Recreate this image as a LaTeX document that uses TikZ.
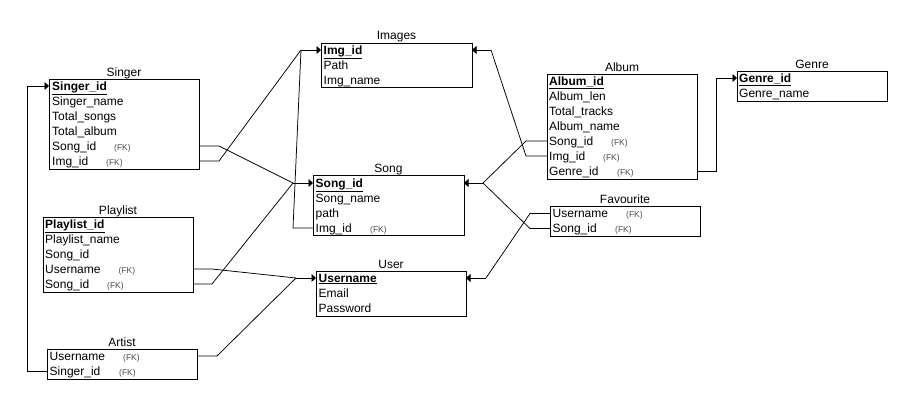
\documentclass[tikz,border=0pt]{standalone}
\usepackage{fontspec}
\setmainfont{Liberation Sans}
\usetikzlibrary{arrows.meta}
\begin{document}
\begin{tikzpicture}[x=1pt,y=-1pt,
  tbl/.style={draw=black,line width=0.9pt,anchor=north west,inner sep=0pt,outer sep=0pt},
  ttl/.style={anchor=base,inner sep=0pt,font=\fontsize{12}{14}\selectfont},
  fld/.style={anchor=base west,inner sep=0pt,font=\fontsize{12}{14}\selectfont},
  fk/.style={anchor=base west,inner sep=0pt,text=black!70,font=\fontsize{8.5}{10}\selectfont},
  link/.style={draw=black,line width=0.75pt},
  tip/.style={link,-{Triangle[length=4.5pt,width=8pt]}}]
\useasboundingbox (0,0) rectangle (912,405);
\newcommand{\pk}[1]{\textbf{\underline{#1}}}

% ---------- Singer ----------
\node[tbl,minimum width=150pt,minimum height=90pt] (singer) at (49,79) {};
\node[ttl] (singer-t) at (124,76.5) {Singer};
\node[fld] (sg1) at (52,90) {\pk{Singer\_id}};
\node[fld] (sg2) at (52,105) {Singer\_name};
\node[fld] (sg3) at (52,120) {Total\_songs};
\node[fld] (sg4) at (52,135) {Total\_album};
\node[fld] (sg5) at (52,150) {Song\_id};
\node[fk] (sg5k) at (114,150) {(FK)};
\node[fld] (sg6) at (52,165) {Img\_id};
\node[fk] (sg6k) at (106,165) {(FK)};

% ---------- Images ----------
\node[tbl,minimum width=151pt,minimum height=44pt] (img) at (321,43) {};
\node[ttl] (img-t) at (396.5,39.5) {Images};
\node[fld] (im1) at (323.5,54) {\pk{Img\_id}};
\node[fld] (im2) at (323.5,69) {Path};
\node[fld] (im3) at (323.5,84) {Img\_name};

% ---------- Song ----------
\node[tbl,minimum width=151pt,minimum height=60pt] (song) at (313,175) {};
\node[ttl] (song-t) at (388.5,172.5) {Song};
\node[fld] (so1) at (315.5,187) {\pk{Song\_id}};
\node[fld] (so2) at (315.5,202) {Song\_name};
\node[fld] (so3) at (315.5,217) {path};
\node[fld] (so4) at (315.5,232) {Img\_id};
\node[fk] (so4k) at (370,232) {(FK)};

% ---------- Album ----------
\node[tbl,minimum width=150pt,minimum height=105pt] (album) at (547,74) {};
\node[ttl] (album-t) at (622,71.5) {Album};
\node[fld] (al1) at (549,85) {\pk{Album\_id}};
\node[fld] (al2) at (549,100) {Album\_len};
\node[fld] (al3) at (549,115) {Total\_tracks};
\node[fld] (al4) at (549,130) {Album\_name};
\node[fld] (al5) at (549,145) {Song\_id};
\node[fk] (al5k) at (611,145) {(FK)};
\node[fld] (al6) at (549,160) {Img\_id};
\node[fk] (al6k) at (603,160) {(FK)};
\node[fld] (al7) at (549,175) {Genre\_id};
\node[fk] (al7k) at (617,175) {(FK)};

% ---------- Genre ----------
\node[tbl,minimum width=150pt,minimum height=30pt] (genre) at (737,71) {};
\node[ttl] (genre-t) at (812,68) {Genre};
\node[fld] (ge1) at (739,82) {\pk{Genre\_id}};
\node[fld] (ge2) at (739,97) {Genre\_name};

% ---------- Favourite ----------
\node[tbl,minimum width=150pt,minimum height=30pt] (fav) at (550,206) {};
\node[ttl] (fav-t) at (625,203.5) {Favourite};
\node[fld] (fa1) at (552.5,217.5) {Username};
\node[fk] (fa1k) at (626,217.5) {(FK)};
\node[fld] (fa2) at (552.5,232.5) {Song\_id};
\node[fk] (fa2k) at (615,232.5) {(FK)};

% ---------- Playlist ----------
\node[tbl,minimum width=150pt,minimum height=75pt] (play) at (43,217) {};
\node[ttl] (play-t) at (118,214.5) {Playlist};
\node[fld] (pl1) at (45,228) {\pk{Playlist\_id}};
\node[fld] (pl2) at (45,243) {Playlist\_name};
\node[fld] (pl3) at (45,258) {Song\_id};
\node[fld] (pl4) at (45,273) {Username};
\node[fk] (pl4k) at (118.5,273) {(FK)};
\node[fld] (pl5) at (45,288) {Song\_id};
\node[fk] (pl5k) at (107,288) {(FK)};

% ---------- User ----------
\node[tbl,minimum width=150pt,minimum height=45pt] (user) at (316,271) {};
\node[ttl] (user-t) at (391,268.5) {User};
\node[fld] (us1) at (318.5,282) {\pk{Username}};
\node[fld] (us2) at (318.5,297) {Email};
\node[fld] (us3) at (318.5,312) {Password};

% ---------- Artist ----------
\node[tbl,minimum width=150pt,minimum height=30pt] (artist) at (47,349) {};
\node[ttl] (artist-t) at (122,346.5) {Artist};
\node[fld] (ar1) at (49.5,360) {Username};
\node[fk] (ar1k) at (123,360) {(FK)};
\node[fld] (ar2) at (49.5,375) {Singer\_id};
\node[fk] (ar2k) at (119,375) {(FK)};

% ---------- bend points ----------
\coordinate (songJ) at (293,183);
\coordinate (imgJ) at (301,50);
\coordinate (imgR) at (491,50);
\coordinate (songR) at (483,183);
\coordinate (userJ) at (296,278);
\coordinate (userR) at (486,278);

% ---------- connectors ----------
% Singer.Song_id -> Song
\draw[link] (singer.east |- 0,146) -- (219,146) -- (songJ);
% Singer.Img_id -> Images
\draw[link] (singer.east |- 0,161) -- (219,161) -- (imgJ);
% Song.Img_id -> Images
\draw[link] (song.west |- 0,228) -- (293,228) -- (imgJ);
\draw[tip] (imgJ) -- (img.west |- imgJ);
% Playlist.Song_id -> Song
\draw[link] (play.east |- 0,284) -- (212,284) -- (songJ);
\draw[tip] (songJ) -- (song.west |- songJ);
% Album.Img_id -> Images
\draw[link] (album.west |- 0,156) -- (526,156) -- (imgR);
\draw[tip] (imgR) -- (img.east |- imgR);
% Album.Song_id -> Song ; Favourite.Song_id -> Song
\draw[link] (album.west |- 0,141) -- (526,141) -- (songR);
\draw[link] (fav.west |- 0,228.5) -- (530,228.5) -- (songR);
\draw[tip] (songR) -- (song.east |- songR);
% Favourite.Username -> User
\draw[link] (fav.west |- 0,213.5) -- (530,213.5) -- (userR);
\draw[tip] (userR) -- (user.east |- userR);
% Playlist.Username -> User ; Artist.Username -> User
\draw[link] (play.east |- 0,269) -- (212,269) -- (userJ);
\draw[link] (artist.east |- 0,356) -- (217,356) -- (userJ);
\draw[tip] (userJ) -- (user.west |- userJ);
% Artist.Singer_id -> Singer
\draw[tip] (artist.west |- 0,371) -- (27.5,371) -- (27.5,86) -- (singer.west |- 0,86);
% Album.Genre_id -> Genre
\draw[tip] (album.east |- 0,171) -- (716,171) -- (716,78) -- (genre.west |- 0,78);
\end{tikzpicture}
\end{document}
